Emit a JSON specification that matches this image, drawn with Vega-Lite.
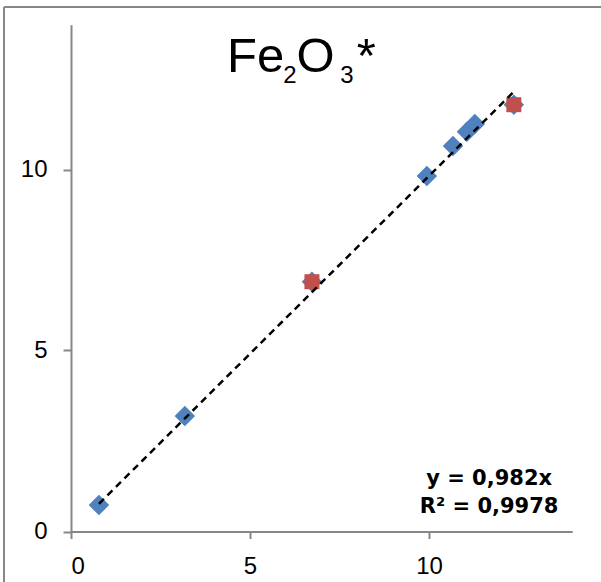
{
  "$schema": "https://vega.github.io/schema/vega-lite/v6.json",
  "width": 597,
  "height": 575,
  "autosize": {"type": "none"},
  "padding": {"left": 4, "top": 7, "right": 0, "bottom": 0},
  "background": "white",
  "config": {
    "font": "Liberation Sans",
    "view": {"stroke": "#878787", "strokeWidth": 2, "strokeDash": [597, 1172, 575, 0]}
  },
  "datasets": {
    "grid": [{"y": 5}, {"y": 10}],
    "blue": [
      {"x": 0.78, "y": 0.73},
      {"x": 3.18, "y": 3.19},
      {"x": 6.73, "y": 6.9},
      {"x": 9.94, "y": 9.82},
      {"x": 10.67, "y": 10.65},
      {"x": 11.06, "y": 11.04},
      {"x": 11.28, "y": 11.26},
      {"x": 12.37, "y": 11.79}
    ],
    "red": [
      {"x": 6.73, "y": 6.9},
      {"x": 12.37, "y": 11.79}
    ],
    "trend": [
      {"x": 0.78, "y": 0.766},
      {"x": 12.37, "y": 12.15}
    ],
    "titleMain": [
      {"x": 4.36, "y": 12.685, "label": "Fe"},
      {"x": 6.30, "y": 12.685, "label": "O"},
      {"x": 7.98, "y": 12.685, "label": "*"}
    ],
    "titleSub": [
      {"x": 5.93, "y": 12.38, "label": "2"},
      {"x": 7.52, "y": 12.38, "label": "3"}
    ],
    "eq": [
      {"x": 11.68, "y": 1.45, "label": "y = 0,982x"},
      {"x": 11.68, "y": 0.68, "label": "R² = 0,9978"}
    ]
  },
  "encoding": {
    "x": {
      "field": "x",
      "type": "quantitative",
      "scale": {"domain": [0, 14], "range": [67, 568.2], "nice": false, "zero": false},
      "axis": {
        "orient": "bottom",
        "offset": -50.5,
        "values": [0, 5, 10],
        "grid": false,
        "title": null,
        "domainColor": "#878787",
        "domainWidth": 2,
        "tickColor": "#878787",
        "tickWidth": 2,
        "tickSize": 7,
        "labelFont": "Liberation Sans",
        "labelFontSize": 24,
        "labelColor": "#000000",
        "labelPadding": 16
      }
    },
    "y": {
      "field": "y",
      "type": "quantitative",
      "scale": {"domain": [0, 14], "range": [524.5, 17.7], "nice": false, "zero": false},
      "axis": {
        "orient": "left",
        "offset": -67,
        "values": [0, 5, 10],
        "grid": false,
        "title": null,
        "domainColor": "#878787",
        "domainWidth": 2,
        "tickColor": "#878787",
        "tickWidth": 2,
        "tickSize": 8,
        "labelFont": "Liberation Sans",
        "labelFontSize": 24,
        "labelColor": "#000000",
        "labelPadding": 16
      }
    }
  },
  "layer": [
    {
      "data": {"name": "grid"},
      "mark": {"type": "rule", "color": "#878787", "strokeWidth": 2},
      "encoding": {
        "x": {"datum": 0},
        "x2": {"datum": 14}
      }
    },
    {
      "data": {"name": "blue"},
      "mark": {"type": "point", "shape": "diamond", "filled": true, "color": "#4F81BD", "size": 420, "opacity": 1}
    },
    {
      "data": {"name": "red"},
      "mark": {"type": "point", "shape": "square", "filled": true, "color": "#C0504D", "size": 225, "opacity": 1}
    },
    {
      "data": {"name": "trend"},
      "mark": {"type": "line", "color": "#000000", "strokeWidth": 2.5, "strokeDash": [7, 5]}
    },
    {
      "data": {"name": "titleMain"},
      "mark": {"type": "text", "fontSize": 49, "align": "left", "baseline": "alphabetic", "color": "#000000", "font": "Liberation Sans"},
      "encoding": {"text": {"field": "label"}}
    },
    {
      "data": {"name": "titleSub"},
      "mark": {"type": "text", "fontSize": 24, "align": "left", "baseline": "alphabetic", "color": "#000000", "font": "Liberation Sans"},
      "encoding": {"text": {"field": "label"}}
    },
    {
      "data": {"name": "eq"},
      "mark": {"type": "text", "fontSize": 21, "fontWeight": "bold", "align": "center", "baseline": "middle", "color": "#000000", "font": "DejaVu Sans"},
      "encoding": {"text": {"field": "label"}}
    }
  ]
}
